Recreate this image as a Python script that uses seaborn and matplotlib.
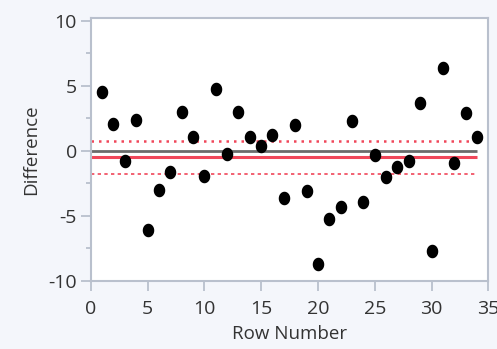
import numpy as np
import matplotlib
matplotlib.use("Agg")
import matplotlib.pyplot as plt
import seaborn as sns
from matplotlib.path import Path
from matplotlib.ticker import MultipleLocator

row_number = list(range(1, 35))
difference = [4.5, 2.1, -0.8, 2.4, -6.1, -3.0, -1.6, 3.0, 1.1, -1.9,
              4.8, -0.25, 3.0, 1.05, 0.35, 1.2, -3.6, 2.0, -3.1, -8.7,
              -5.2, -4.3, 2.3, -3.9, -0.3, -2.0, -1.2, -0.75, 3.7, -7.7,
              6.4, -0.9, 2.9, 1.05]
mean_diff = -0.47
upper_cl = 0.78
lower_cl = -1.78

sns.set_style("ticks")
plt.rcParams["font.family"] = ["Open Sans", "DejaVu Sans"]
plt.rcParams["axes.unicode_minus"] = False

# slightly tall ellipse marker, like the original
t = np.linspace(0, 2 * np.pi, 40)
ellipse = Path(np.column_stack([0.85 * np.cos(t), np.sin(t)]), closed=True)

fig = plt.figure(figsize=(4.97, 3.49), dpi=100, facecolor="#f4f6fb")
ax = fig.add_axes([0.1825, 0.195, 0.80, 0.7525])
ax.set_facecolor("white")

ax.hlines(0, 0, 34, color="#6b6b6b", lw=2, zorder=1)
ax.hlines(mean_diff, 0, 34, color="#f0475a", lw=2.2, zorder=1)
ax.hlines(upper_cl, 0, 34, color="#f0475a", lw=1.8, linestyles=(0, (1, 2)), zorder=1)
ax.hlines(lower_cl, 0, 34, color="#f0475a", lw=1.2, linestyles=(0, (2, 2)), zorder=1)

sns.scatterplot(x=row_number, y=difference, ax=ax, color="black",
                marker=ellipse, s=95, edgecolor="black", linewidth=0, zorder=3)

ax.set_xlim(0, 35)
ax.set_ylim(-10, 10.2)
ax.xaxis.set_major_locator(MultipleLocator(5))
ax.yaxis.set_major_locator(MultipleLocator(5))
ax.yaxis.set_minor_locator(MultipleLocator(2.5))

spine_col = "#b9c0cd"
for s in ax.spines.values():
    s.set_color(spine_col)
    s.set_linewidth(1.5)
ax.tick_params(which="major", length=7, width=1.3, color=spine_col,
               labelsize=14, labelcolor="#333333")
ax.tick_params(axis="x", which="major", pad=7)
ax.tick_params(axis="y", which="major", pad=3)
ax.tick_params(which="minor", length=3.5, width=1.3, color=spine_col)

ax.set_xlabel("Row Number", fontsize=13.5, color="#333333", labelpad=5)
ax.set_ylabel("Difference", fontsize=13.5, color="#333333", labelpad=6)

fig.savefig("out.png", dpi=100, facecolor=fig.get_facecolor())
